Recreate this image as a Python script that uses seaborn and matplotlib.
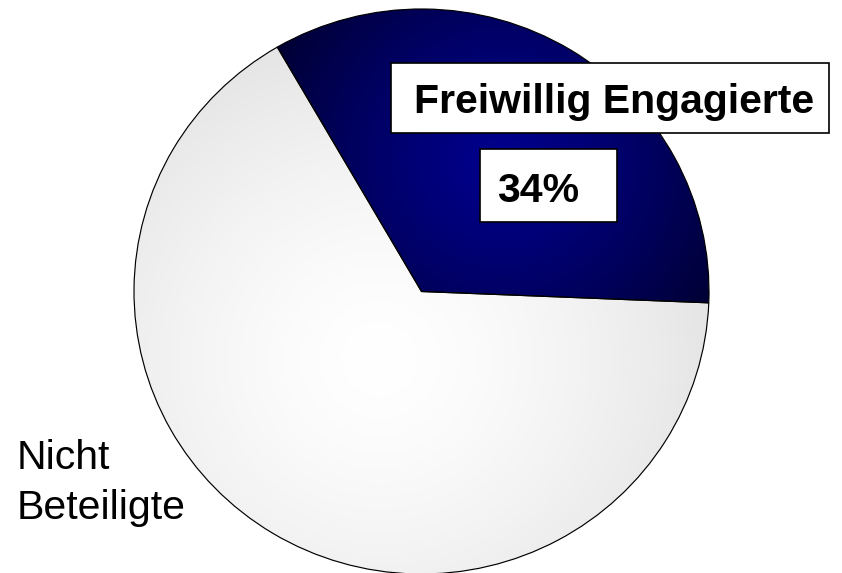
import numpy as np
import matplotlib
matplotlib.use("Agg")
import matplotlib.pyplot as plt
from matplotlib.patches import Rectangle
import seaborn as sns

# ---- data ----
categories = ["Freiwillig Engagierte", "Nicht Beteiligte"]
shares = [34, 66]
center_colors = ["#00008c", "#ffffff"]
edge_colors = ["#000034", "#e5e5e5"]
gradient_power = [1.3, 1.5]

sns.set_theme(style="white")
plt.rcParams["font.family"] = ["Liberation Sans", "DejaVu Sans"]

W, H = 842, 573
fig = plt.figure(figsize=(W / 100, H / 100), dpi=100)
fig.patch.set_facecolor("white")

def fx(px):
    return px / W

def fy(py):
    return 1 - py / H

# pie axes spanning x 134..709, y 9..574 px
ax = fig.add_axes([fx(134), fy(574), (709 - 134) / W, (574 - 9) / H])
ax.axis("off")

wedges, _ = ax.pie(shares, startangle=120.1, counterclock=False, radius=1,
                   colors=["none", "none"],
                   wedgeprops=dict(edgecolor="black", linewidth=0.85))
for w in wedges:
    w.set_zorder(3)
ax.set_xlim(-1, 1)
ax.set_ylim(-1, 1)
ax.set_aspect("auto")

# radial gradient fills, centred on each slice's centroid
n = 600
xs = np.linspace(-1, 1, n)
ys = np.linspace(-1, 1, n)
X, Y = np.meshgrid(xs, ys)
R = np.hypot(X, Y)
A = np.degrees(np.arctan2(Y, X)) % 360

def hex2rgb(h):
    h = h.lstrip("#")
    return np.array([int(h[i:i + 2], 16) / 255 for i in (0, 2, 4)])

for w, c0, c1, p in zip(wedges, center_colors, edge_colors, gradient_power):
    t1, t2 = w.theta1, w.theta2
    span = np.radians(t2 - t1)
    mid = np.radians((t1 + t2) / 2)
    rc = 4 * np.sin(span / 2) / (3 * span)
    cx, cy = rc * np.cos(mid), rc * np.sin(mid)
    ang = (A - t1) % 360
    inside = (R <= 1) & (ang <= (t2 - t1))
    D = np.hypot(X - cx, Y - cy)
    dmax = D[inside].max()
    t = np.clip(D / dmax, 0, 1) ** p
    rgb = hex2rgb(c0)[None, None, :] * (1 - t[..., None]) + hex2rgb(c1)[None, None, :] * t[..., None]
    im = ax.imshow(rgb, extent=(-1, 1, -1, 1), origin="lower", aspect="auto",
                   interpolation="bilinear", zorder=1)
    im.set_clip_path(w)

# ---- labels ----
pct = shares[0] / sum(shares) * 100
fs = 29.5

fig.add_artist(Rectangle((fx(391), fy(133)), (829 - 391) / W, (133 - 63) / H,
                         transform=fig.transFigure, facecolor="white",
                         edgecolor="black", linewidth=1.2, zorder=5))
fig.text(fx(614), fy(113), categories[0], ha="center", va="baseline",
         fontsize=fs, fontweight="bold", color="black", zorder=6)

fig.add_artist(Rectangle((fx(480), fy(222)), (617 - 480) / W, (222 - 149) / H,
                         transform=fig.transFigure, facecolor="white",
                         edgecolor="black", linewidth=1.2, zorder=5))
fig.text(fx(497), fy(202), f"{pct:.0f}%", ha="left", va="baseline",
         fontsize=fs, fontweight="bold", color="black", zorder=6)

lines = categories[1].split(" ")
for i, line in enumerate(lines):
    fig.text(fx(17), fy(469 + 50 * i), line, ha="left", va="baseline",
             fontsize=fs, color="black", zorder=6)

fig.savefig("out.png", dpi=100, facecolor="white")
